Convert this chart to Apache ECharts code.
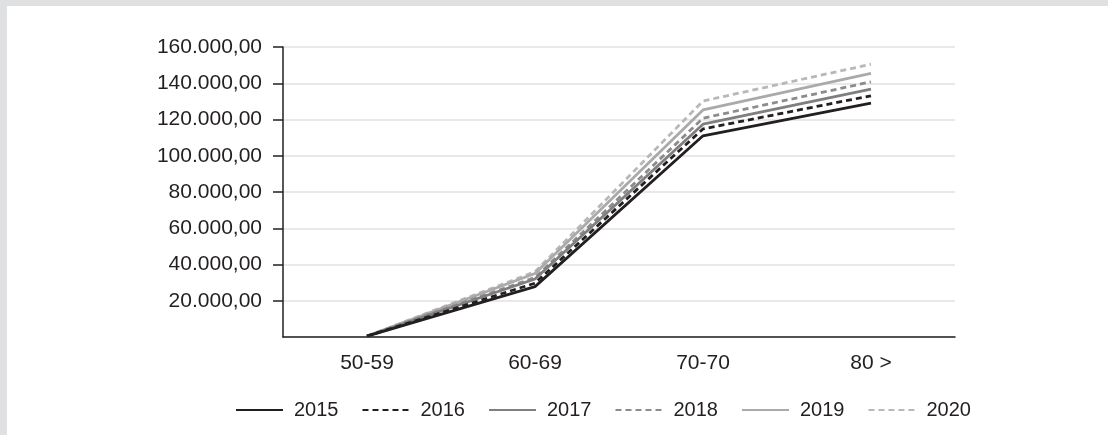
<!DOCTYPE html>
<html>
<head>
<meta charset="utf-8">
<script src="https://cdn.jsdelivr.net/npm/echarts@6/dist/echarts.min.js"></script>
<style>
  html, body { margin: 0; padding: 0; width: 1108px; height: 435px; background: #dfe0e2; overflow: hidden; }
  #chart { position: absolute; left: 7px; top: 6px; width: 1101px; height: 429px; background: #ffffff; }
</style>
</head>
<body>
<div id="chart"></div>
<script>
const categories = ['50-59', '60-69', '70-70', '80 >'];
const years = ['2015', '2016', '2017', '2018', '2019', '2020'];
const v2015 = [500, 27800, 111000, 129000];
const v2016 = [500, 29700, 114800, 133100];
const v2017 = [500, 32000, 117400, 136700];
const v2018 = [500, 32800, 120700, 140800];
const v2019 = [500, 35000, 125300, 145400];
const v2020 = [500, 36000, 130200, 150500];
const yTicks = { min: 0, max: 160000, interval: 20000 };

const seriesValues = [v2015, v2016, v2017, v2018, v2019, v2020];
const styles = [
  { color: '#231f20', type: 'solid' },
  { color: '#231f20', type: [6, 4] },
  { color: '#7f7f7f', type: 'solid' },
  { color: '#8c8c8c', type: [6, 4] },
  { color: '#aaaaaa', type: 'solid' },
  { color: '#b8b8b8', type: [6, 4] }
];

function fmt(v) {
  const s = Math.round(v).toString().replace(/\B(?=(\d{3})+(?!\d))/g, '.');
  return s + ',00';
}

const FONT = "'Liberation Sans', Arial, Helvetica, sans-serif";
const chart = echarts.init(document.getElementById('chart'), null, { renderer: 'canvas' });
chart.setOption({
  animation: false,
  textStyle: { fontFamily: FONT },
  grid: { left: 276, right: 153, top: 41, bottom: 98, containLabel: false },
  legend: {
    left: 223,
    top: 389,
    itemWidth: 47,
    itemHeight: 14,
    itemGap: 23,
    itemStyle: { color: 'rgba(0,0,0,0)', borderWidth: 0, opacity: 0 },
    textStyle: { fontSize: 20, color: '#231f20', fontFamily: FONT, padding: [0, 0, 0, 6] },
    data: years
  },
  xAxis: {
    type: 'category',
    data: categories,
    boundaryGap: true,
    axisLine: { lineStyle: { color: '#231f20', width: 1.5 } },
    axisTick: { alignWithLabel: true, length: 10, lineStyle: { color: '#231f20', width: 1.5 } },
    axisLabel: { fontSize: 21, color: '#231f20', margin: 16, fontFamily: FONT },
    splitLine: { show: false }
  },
  yAxis: {
    type: 'value',
    min: yTicks.min,
    max: yTicks.max,
    interval: yTicks.interval,
    axisLine: { show: true, lineStyle: { color: '#231f20', width: 1.5 } },
    axisTick: { show: true, length: 10, lineStyle: { color: '#231f20', width: 1.5 } },
    axisLabel: {
      fontSize: 21, color: '#231f20', margin: 21, fontFamily: FONT,
      showMinLabel: false,
      formatter: v => (v === 0 ? '' : fmt(v))
    },
    splitLine: { show: true, lineStyle: { color: '#e2e2e2', width: 1.5 } }
  },
  series: years.map((y, i) => ({
    name: y,
    type: 'line',
    data: seriesValues[i],
    symbol: 'none',
    showSymbol: false,
    z: 10 - i,
    lineStyle: { color: styles[i].color, width: 2.8, type: styles[i].type },
    itemStyle: { color: styles[i].color }
  }))
});
</script>
</body>
</html>
